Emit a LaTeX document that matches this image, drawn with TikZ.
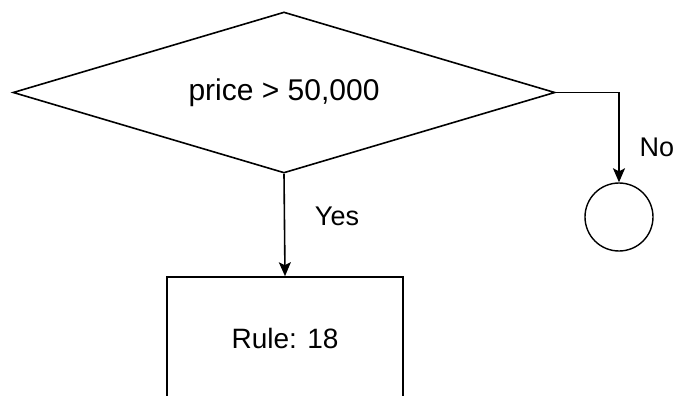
\documentclass[tikz,border=0pt]{standalone}
\usepackage{fontspec}
\setmainfont{Liberation Sans}
\usetikzlibrary{arrows.meta, positioning, shapes.geometric}

\begin{document}
\begin{tikzpicture}[
  x=1pt, y=-1pt,
  font=\fontsize{27}{32}\selectfont,
  decision/.style={diamond, draw, line width=1.6pt, inner sep=0pt, aspect=3.37, minimum width=542pt, minimum height=161pt, font=\fontsize{30}{36}\selectfont},
  rulebox/.style={rectangle, draw, line width=1.6pt, minimum width=236pt, minimum height=122pt, font=\fontsize{28}{34}\selectfont},
  endcirc/.style={circle, draw, line width=1.4pt, minimum size=68pt, inner sep=0pt},
  lbl/.style={inner sep=0pt},
  >={Stealth[length=14pt, width=12pt, inset=3pt]},
  line width=1.6pt
]
  \useasboundingbox (0,0) rectangle (675,396);
  \clip (0,0) rectangle (675,396);

  % Decision and its two outcomes
  \node[decision] (cond) at (284,92.5) {price > 50,000};
  \node[rulebox] (rule) at (285,338) {Rule: 18};
  \node[endcirc] (leaf) at (619,217) {};

  \draw[->] (cond.south) -- (rule.north);
  \draw[->] (cond.east) -| (leaf.north);

  \node[lbl] (yes) at (337,216) {Yes};
  \node[lbl] (no) at (657,147) {No};
\end{tikzpicture}
\end{document}
